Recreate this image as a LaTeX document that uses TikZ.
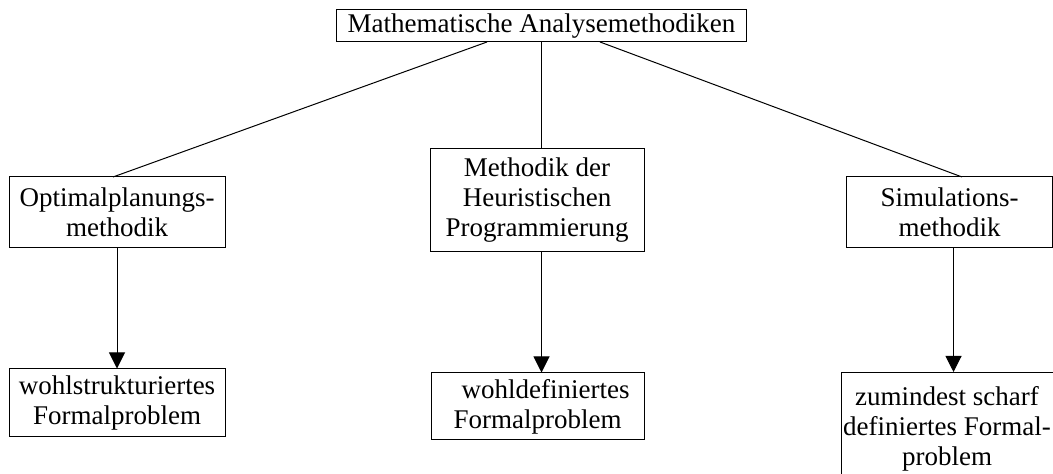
\documentclass[tikz,border=0pt]{standalone}
\usepackage{fontspec}
\setmainfont{Liberation Serif}
\usetikzlibrary{arrows.meta,positioning}

\tikzset{
  box/.style={draw, line width=0.5pt, align=center, inner sep=0pt,
    font=\fontsize{13.5}{15}\selectfont},
  link/.style={line width=0.5pt},
  arrow/.style={line width=0.5pt, -{Triangle[length=8pt,width=8pt]}}
}

\begin{document}
\begin{tikzpicture}[x=0.5pt, y=-0.5pt]
  \useasboundingbox (0,0) rectangle (1053,474);

  \node (top) [box, minimum width=205pt, minimum height=16pt] at (541.5,26) {Mathematische Analysemethodiken};

  \node (opt) [box, minimum width=108pt, minimum height=35.5pt] at (117,212.5) {Optimalplanungs-\\methodik};
  \node (heu) [box, minimum width=107pt, minimum height=51.5pt] at (537,200.5) {Methodik der\\Heuristischen\\Programmierung};
  \node (sim) [box, minimum width=103pt, minimum height=35.5pt] at (949.5,212.5) {Simulations-\\methodik};

  \node (wsf) [box, minimum width=108pt, minimum height=34pt] at (117,403) {wohlstrukturiertes\\Formalproblem};
  \node (wdf) [box, minimum width=106.5pt, minimum height=33.5pt] at (537.5,406.5) {\hspace{8pt}wohldefiniertes\\Formalproblem};
  \node (sdf) [box, minimum width=106pt, minimum height=60pt, anchor=north west] at (841,372) {};
  \node (sdftext) [font=\fontsize{13.5}{15}\selectfont, align=center, anchor=north, inner sep=0pt] at (947,386) {zumindest scharf\\definiertes Formal-\\problem};

  \coordinate (opttop) at (113,177);
  \coordinate (simtop) at (962,177);
  \coordinate (topl) at (487,42);
  \coordinate (topr) at (600,42);

  \draw[link] (topl) -- (opttop);
  \draw[link] (top.south) -- (top.south |- heu.north);
  \draw[link] (topr) -- (simtop);

  \draw[arrow] (opt.south) -- (wsf.north);
  \draw[arrow] (top.south |- heu.south) -- (top.south |- wdf.north);
  \draw[arrow] ([xshift=2pt]sim.south) -- ([xshift=2pt]sim.south |- sdf.north);
\end{tikzpicture}
\end{document}
